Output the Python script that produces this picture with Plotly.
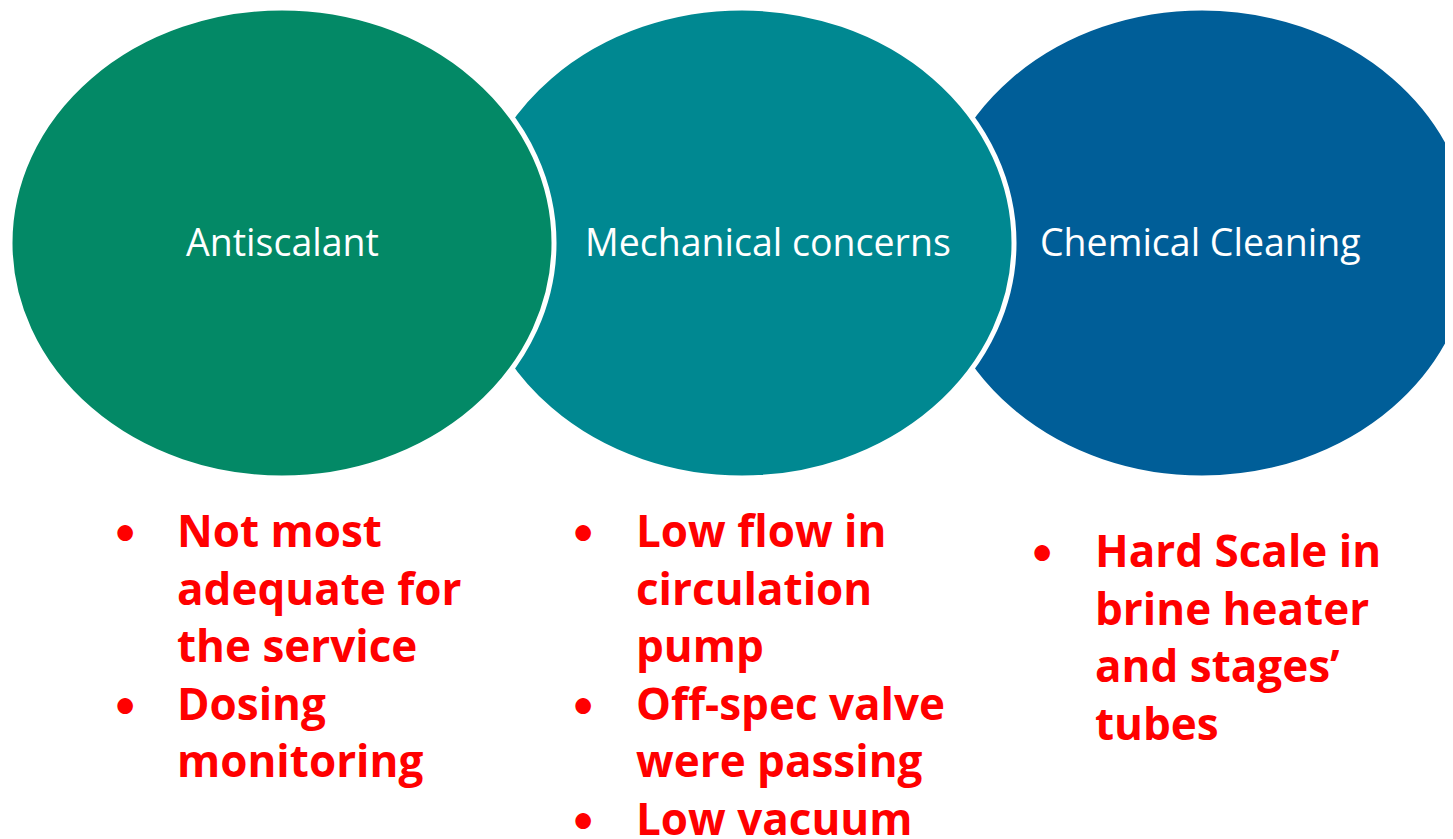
import plotly.graph_objects as go

# ---- data ----
categories = ["Antiscalant", "Mechanical concerns", "Chemical Cleaning"]
issues_antiscalant = [["Not most", "adequate for", "the service"], ["Dosing", "monitoring"]]
issues_mechanical = [["Low flow in", "circulation", "pump"], ["Off-spec valve", "were passing"], ["Low vacuum"]]
issues_chemical = [["Hard Scale in", "brine heater", "and stages\u2019", "tubes"]]
issues = [issues_antiscalant, issues_mechanical, issues_chemical]

# ---- layout / style constants ----
W, H = 1453, 839
OFF = 8  # page body margin
fill_colors = ["#038966", "#008891", "#005E98"]
ell_cx = [282, 742, 1202]
ell_cy = 243
ell_rx, ell_ry = 272, 235
title_x = [282, 768, 1200]
title_y = 241
bullet_x = [125, 583, 1042]
text_x = [175, 634, 1093]
first_line_y = [530, 530, 550]
line_step = 57.5
title_font = dict(family="Open Sans", size=37.5, color="white")
item_font = dict(family="Open Sans", size=44, color="#FF0000")
bullet_font = dict(family="Lato", size=42, color="#FF0000")

fig = go.Figure()

shapes = []
# draw back to front: blue, teal, green on top
for i in reversed(range(len(categories))):
    shapes.append(dict(
        type="circle", xref="x", yref="y",
        x0=ell_cx[i] - ell_rx, x1=ell_cx[i] + ell_rx,
        y0=ell_cy - ell_ry, y1=ell_cy + ell_ry,
        fillcolor=fill_colors[i], line=dict(color="white", width=5),
    ))

annotations = []
for i, cat in enumerate(categories):
    annotations.append(dict(
        x=title_x[i], y=title_y, xref="x", yref="y", text=cat, showarrow=False,
        xanchor="center", yanchor="middle", font=title_font,
    ))
    line_idx = 0
    for item in issues[i]:
        y_item = first_line_y[i] + line_idx * line_step
        annotations.append(dict(
            x=bullet_x[i], y=y_item, xref="x", yref="y", text="\u2022", showarrow=False,
            xanchor="center", yanchor="middle", font=bullet_font,
        ))
        for line in item:
            annotations.append(dict(
                x=text_x[i], y=first_line_y[i] + line_idx * line_step, xref="x", yref="y",
                text="<b>" + line + "</b>", showarrow=False,
                xanchor="left", yanchor="middle", font=item_font,
            ))
            line_idx += 1

fig.update_layout(
    width=W - OFF, height=H - OFF,
    margin=dict(l=0, r=0, t=0, b=0),
    paper_bgcolor="white", plot_bgcolor="white",
    xaxis=dict(range=[OFF, W], visible=False, fixedrange=True),
    yaxis=dict(range=[H, OFF], visible=False, fixedrange=True),
    shapes=shapes, annotations=annotations, showlegend=False,
)

fig.write_html("out.html")
